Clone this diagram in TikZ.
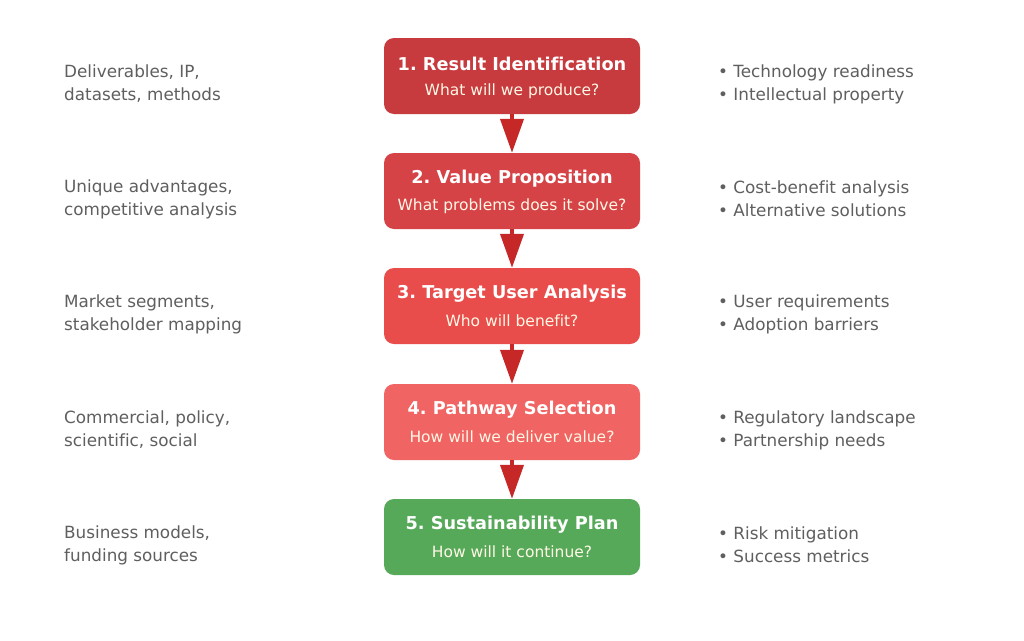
\documentclass[tikz,border=0pt]{standalone}
\usepackage{fontspec}
\setmainfont[Ligatures=NoCommon]{DejaVu Sans}
\usetikzlibrary{arrows.meta}
\definecolor{cA}{HTML}{C73A3E}
\definecolor{cB}{HTML}{D64347}
\definecolor{cC}{HTML}{E84D4B}
\definecolor{cD}{HTML}{F06463}
\definecolor{cE}{HTML}{57A95A}
\definecolor{arr}{HTML}{C62828}
\definecolor{side}{HTML}{5F5F5F}
\definecolor{subc}{HTML}{FFF8E6}
\tikzset{
  stage/.style={draw=none, rounded corners=10pt, minimum width=256pt, minimum height=76pt, inner sep=0pt},
  ttl/.style={font=\fontsize{17.7}{20}\selectfont\bfseries, text=white},
  subt/.style={font=\fontsize{15.5}{17}\selectfont, text=subc},
  sidetxt/.style={font=\fontsize{16.8}{23}\selectfont, text=side, align=left, anchor=west, inner sep=0pt},
  flow/.style={draw=arr, line width=4pt, -{Triangle[length=34pt,width=23pt]}, shorten >=0pt},
}
\begin{document}
\frenchspacing
\begin{tikzpicture}[x=1pt,y=-1pt]
\useasboundingbox[fill=white] (0,0) rectangle (1024,640);
\foreach \n/\c/\y in {1/cA/76, 2/cB/191, 3/cC/306, 4/cD/422, 5/cE/537}{
  \node[stage, fill=\c] (b\n) at (512,\y) {};
}
\node[ttl] (t1) at (512,64) {1. Result Identification};
\node[subt] (s1) at (512,91) {What will we produce?};
\node[ttl] (t2) at (512,179) {2. Value Proposition};
\node[subt] (s2) at (512,206) {What problems does it solve?};
\node[ttl] (t3) at (512,294) {3. Target User Analysis};
\node[subt] (s3) at (512,321) {Who will benefit?};
\node[ttl] (t4) at (512,410) {4. Pathway Selection};
\node[subt] (s4) at (512,437) {How will we deliver value?};
\node[ttl] (t5) at (512,525) {5. Sustainability Plan};
\node[subt] (s5) at (512,552) {How will it continue?};

\node[sidetxt] (l1) at (64,84) {Deliverables, IP,\\datasets, methods};
\node[sidetxt] (l2) at (64,199) {Unique advantages,\\competitive analysis};
\node[sidetxt] (l3) at (64,314) {Market segments,\\stakeholder mapping};
\node[sidetxt] (l4) at (64,430) {Commercial, policy,\\scientific, social};
\node[sidetxt] (l5) at (64,545) {Business models,\\funding sources};

\node[sidetxt] (r1) at (718,84) {• Technology readiness\\• Intellectual property};
\node[sidetxt] (r2) at (718,199) {• Cost-benefit analysis\\• Alternative solutions};
\node[sidetxt] (r3) at (718,314) {• User requirements\\• Adoption barriers};
\node[sidetxt] (r4) at (718,430) {• Regulatory landscape\\• Partnership needs};
\node[sidetxt] (r5) at (718,545) {• Risk mitigation\\• Success metrics};

\draw[flow] (b1.south) -- (b2.north);
\draw[flow] (b2.south) -- (b3.north);
\draw[flow] (b3.south) -- (b4.north);
\draw[flow] (b4.south) -- (b5.north);
\end{tikzpicture}
\end{document}
